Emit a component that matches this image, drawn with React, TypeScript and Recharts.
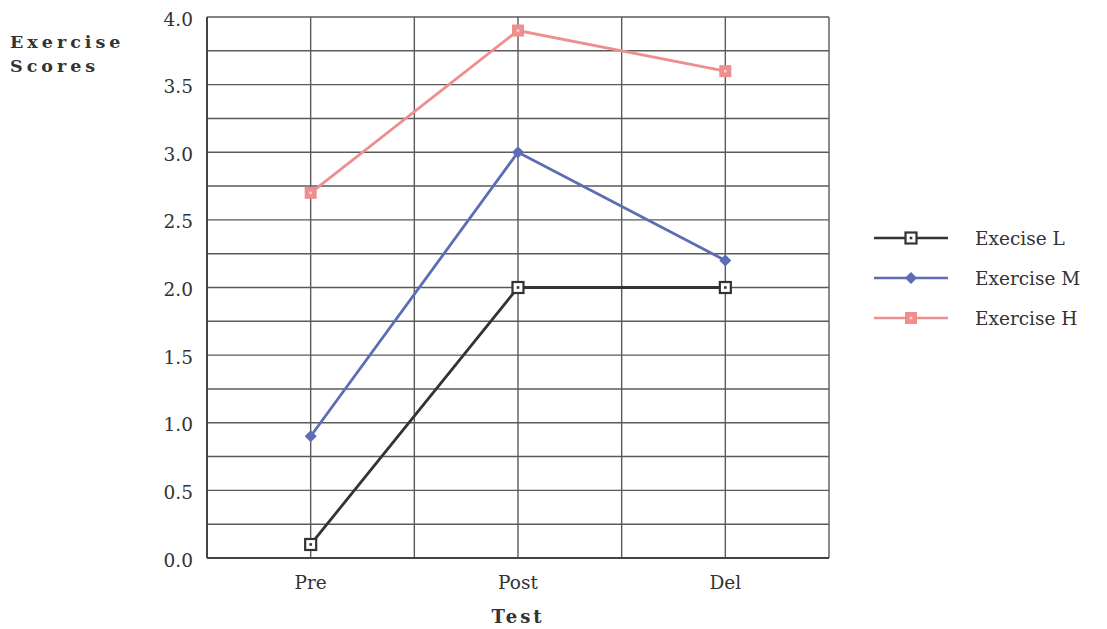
import React from 'react';
import { LineChart, Line, XAxis, YAxis, CartesianGrid, Legend } from 'recharts';

const categories = ['Pre', 'Post', 'Del'];
const exerciseL = [0.1, 2.0, 2.0];
const exerciseM = [0.9, 3.0, 2.2];
const exerciseH = [2.7, 3.9, 3.6];
const yTicks = [0, 0.25, 0.5, 0.75, 1, 1.25, 1.5, 1.75, 2, 2.25, 2.5, 2.75, 3, 3.25, 3.5, 3.75, 4];
const seriesNames = ['Execise L', 'Exercise M', 'Exercise H'];
const yLabelLines = ['Exercise', 'Scores'];
const xLabel = 'Test';

const colL = '#333333';
const colM = '#5b6db4';
const colH = '#ee8e8e';
const gridCol = '#5a5a5a';
const FONT = '"DejaVu Serif", serif';

const data = categories.map((c, i) => ({ test: c, L: exerciseL[i], M: exerciseM[i], H: exerciseH[i] }));

const DotL = (p: any) => {
  const { cx, cy } = p;
  if (cx == null || cy == null) return null;
  return (
    <g>
      <rect x={cx - 5.5} y={cy - 5.5} width={11} height={11} fill="#fff" stroke={colL} strokeWidth={2.2} />
      <rect x={cx - 1.3} y={cy - 1.3} width={2.6} height={2.6} fill={colL} />
    </g>
  );
};
const DotM = (p: any) => {
  const { cx, cy } = p;
  if (cx == null || cy == null) return null;
  return <polygon points={`${cx},${cy - 6} ${cx + 6},${cy} ${cx},${cy + 6} ${cx - 6},${cy}`} fill={colM} />;
};
const DotH = (p: any) => {
  const { cx, cy } = p;
  if (cx == null || cy == null) return null;
  return (
    <g>
      <rect x={cx - 6} y={cy - 6} width={12} height={12} fill={colH} />
      <rect x={cx - 1.3} y={cy - 1.3} width={2.6} height={2.6} fill="#f9d0d0" />
    </g>
  );
};

const legendItems = [
  { name: seriesNames[0], color: colL, Dot: DotL },
  { name: seriesNames[1], color: colM, Dot: DotM },
  { name: seriesNames[2], color: colH, Dot: DotH },
];

const LegendContent = () => (
  <div style={{ fontFamily: FONT }}>
    {legendItems.map((it) => (
      <div key={it.name} style={{ display: 'flex', alignItems: 'center', height: 40 }}>
        <svg width={76} height={20} style={{ display: 'block' }}>
          <line x1={1} y1={10} x2={75} y2={10} stroke={it.color} strokeWidth={2.6} />
          <it.Dot cx={38} cy={10} />
        </svg>
        <span style={{ marginLeft: 26, fontSize: 18.5, color: '#333' }}>{it.name}</span>
      </div>
    ))}
  </div>
);

const YLabel = () => (
  <text fontFamily={FONT} fontWeight="bold" fontSize={17.5} fill="#333" letterSpacing={4}>
    <tspan x={2} y={40}>{yLabelLines[0]}</tspan>
    <tspan x={2} y={64}>{yLabelLines[1]}</tspan>
  </text>
);

export default function App() {
  return (
    <LineChart width={1091} height={621} data={data} margin={{ top: 9, right: 270, left: 0, bottom: 0 }}>
      <CartesianGrid
        stroke={gridCol}
        strokeWidth={1.4}
        verticalCoordinatesGenerator={(props: any) => {
          const o = props.offset;
          const n = categories.length * 2;
          return Array.from({ length: n + 1 }, (_, i) => o.left + (o.width * i) / n);
        }}
      />
      <XAxis
        dataKey="test"
        scale="band"
        height={71}
        tickLine={false}
        tickSize={0}
        tickMargin={18}
        axisLine={{ stroke: '#444', strokeWidth: 2 }}
        tick={{ fontFamily: FONT, fontSize: 18.5, fill: '#333' }}
        label={{ value: xLabel, position: 'insideBottom', offset: 6, style: { fontFamily: FONT, fontWeight: 'bold', fontSize: 18, fill: '#333', letterSpacing: 3 } }}
      />
      <XAxis xAxisId="top" dataKey="test" orientation="top" height={0} tick={false} tickLine={false} axisLine={{ stroke: '#444', strokeWidth: 2 }} />
      <YAxis
        domain={[0, 4]}
        ticks={yTicks}
        interval={0}
        width={199}
        tickLine={false}
        tickSize={0}
        tickMargin={14}
        axisLine={{ stroke: '#444', strokeWidth: 2 }}
        tick={{ fontFamily: FONT, fontSize: 18.5, fill: '#333', dy: 2 }}
        tickFormatter={(v: number) => (Math.round(v * 100) % 50 === 0 ? v.toFixed(1) : '')}
        label={{ content: () => <YLabel /> }}
      />
      <YAxis yAxisId="right" orientation="right" domain={[0, 4]} width={0} tick={false} tickLine={false} axisLine={{ stroke: '#444', strokeWidth: 2 }} />
      <Legend
        layout="horizontal"
        verticalAlign="middle"
        align="center"
        content={<LegendContent />}
        wrapperStyle={{ left: 865, top: 210, width: 230 }}
      />
      <Line dataKey="L" name={seriesNames[0]} stroke={colL} strokeWidth={2.8} dot={<DotL />} isAnimationActive={false} />
      <Line dataKey="M" name={seriesNames[1]} stroke={colM} strokeWidth={2.8} dot={<DotM />} isAnimationActive={false} />
      <Line dataKey="H" name={seriesNames[2]} stroke={colH} strokeWidth={2.8} dot={<DotH />} isAnimationActive={false} />
    </LineChart>
  );
}
